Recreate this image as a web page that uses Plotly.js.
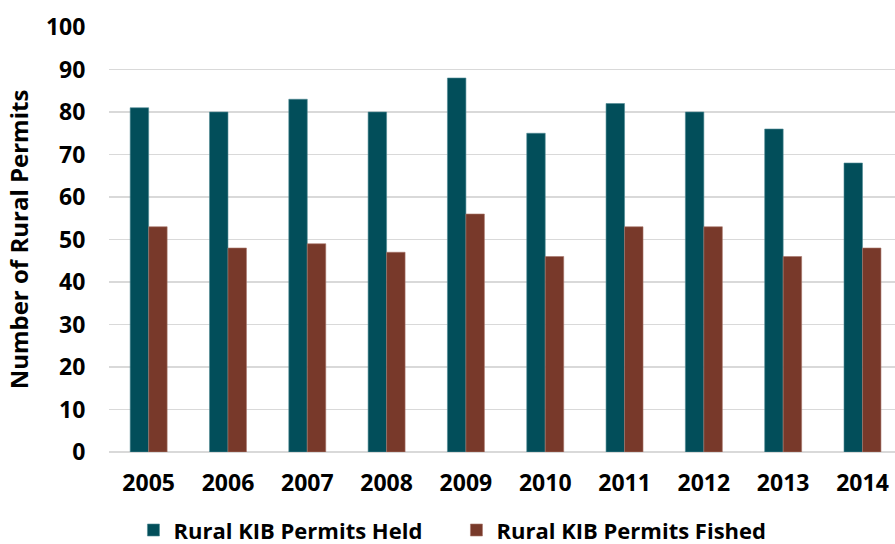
<!DOCTYPE html>
<html><head><meta charset="utf-8">
<script src="https://cdn.plot.ly/plotly-3.0.1.min.js"></script>
<style>html,body{margin:0;padding:0;background:#fff}#chart{width:895px;height:544px}</style>
</head><body><div id="chart"></div>
<script>
const years = ['2005','2006','2007','2008','2009','2010','2011','2012','2013','2014'];
const permitsHeld = [81, 80, 83, 80, 88, 75, 82, 80, 76, 68];
const permitsFished = [53, 48, 49, 47, 56, 46, 53, 53, 46, 48];
const seriesNames = ['Rural KIB Permits Held', 'Rural KIB Permits Fished'];
const yTicks = [0,10,20,30,40,50,60,70,80,90,100];

const fam = '"Open Sans", sans-serif';
const traces = [
  {type:'bar', x: years, y: permitsHeld, name: seriesNames[0], marker:{color:'#024E5A', line:{color:'#4f8a93', width:0.6}}},
  {type:'bar', x: years, y: permitsFished, name: seriesNames[1], marker:{color:'#78392A', line:{color:'#a8766a', width:0.6}}}
];
const layout = {
  width: 895, height: 544,
  margin: {l:109, r:0, t:27, b:92, autoexpand:false},
  paper_bgcolor:'#fff', plot_bgcolor:'#fff',
  barmode:'group', bargap:0.534, bargroupgap:0,
  font: {family:fam, size:22, color:'#000', weight:700},
  showlegend: true,
  legend: {orientation:'h', xref:'container', x:0.51, xanchor:'center', yref:'paper', y:-0.184, yanchor:'middle', entrywidth:278, font:{family:fam, size:22, weight:700, color:'#000'}, itemclick:false},
  xaxis: {type:'category', range:[-0.5, 9.41], showgrid:false, zeroline:false, showline:false, ticks:'outside', ticklen:10, tickcolor:'rgba(0,0,0,0)', tickfont:{family:fam, size:23, weight:700}},
  yaxis: {range:[0,100], tickvals: yTicks, showgrid:true, gridcolor:'#d9d9d9', gridwidth:1.5, zeroline:true, zerolinecolor:'#d9d9d9', zerolinewidth:1.5, showline:false, ticks:'outside', ticklen:18, tickcolor:'rgba(0,0,0,0)', tickfont:{family:fam, size:23, weight:700},
    title:{text:'Number of Rural Permits', standoff:10, font:{family:fam, size:24, weight:700}}}
};
Plotly.newPlot('chart', traces, layout, {displayModeBar:false, staticPlot:true});
</script></body></html>
